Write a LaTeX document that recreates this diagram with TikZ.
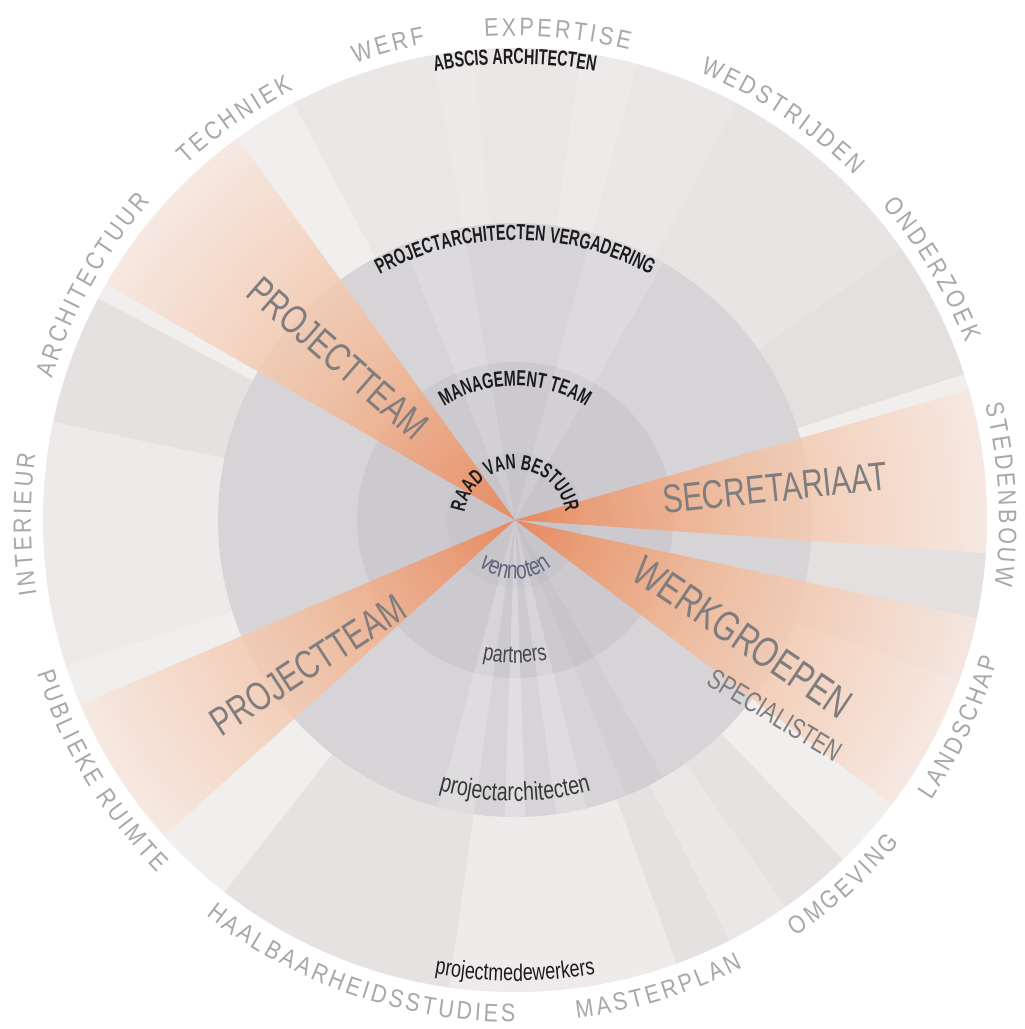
\documentclass[tikz,border=0pt]{standalone}
\usepackage{fontspec}
\setmainfont{Liberation Sans}
\newfontfamily\ringfont[FakeStretch=0.85]{Liberation Sans}
\newfontfamily\headfont[FakeStretch=0.66]{Liberation Sans}
\newfontfamily\namefont[FakeStretch=0.75]{Liberation Sans}
\usetikzlibrary{decorations.text}

\definecolor{discbase}{RGB}{235,231,230}
\definecolor{ringmid}{RGB}{215,212,216}
\definecolor{ringpartner}{RGB}{205,202,207}
\definecolor{ringcore}{RGB}{199,196,202}
\definecolor{ringgray}{RGB}{168,167,170}
\definecolor{biggray}{RGB}{128,125,127}
\definecolor{headblack}{RGB}{28,28,30}
\definecolor{vennotenblue}{RGB}{95,100,125}
\definecolor{fan0}{RGB}{236,128,78}
\definecolor{fan1}{RGB}{239,152,108}
\definecolor{fan2}{RGB}{243,190,158}
\definecolor{fan3}{RGB}{247,232,224}

% orange fans fade from the centre to the rim
\pgfdeclareradialshading{fan}{\pgfpointorigin}{color(0bp)=(fan0); color(4bp)=(fan1); color(12bp)=(fan2); color(25bp)=(fan3); color(50bp)=(fan3)}

\tikzset{
  % rim names: letters set apart by narrow spaces
  rimtext/.style={decorate, decoration={text along path, text align=center, text color=ringgray,
      text={|\ringfont\fontsize{18}{20}\selectfont\fontdimen2\font=2.2pt|#1}}},
  head/.style={decorate, decoration={text along path, text align=center, text color=headblack,
      text={|\headfont\bfseries\fontsize{15.5}{16}\selectfont|#1}}},
  member/.style={decorate, decoration={text along path, text align=center, text color=headblack,
      text={|\namefont\fontsize{17}{18}\selectfont|#1}}},
  bigname/.style={text=biggray, inner sep=0pt, font=\namefont\fontsize{28.5}{29}\selectfont},
  sectorlight/.style={fill=white, fill opacity=#1},
  sectordark/.style={fill=black!55, fill opacity=#1}
}

\begin{document}
\begin{tikzpicture}[x=0.25mm, y=0.25mm]
  \useasboundingbox[fill=white] (-515,-509) rectangle (510,520);

  % outer disc with its sectors
  \fill[discbase] (0,0) circle (472);
  \fill[sectorlight=0.32] (118:297) arc[start angle=118, end angle=152, radius=297] -- (152:472) arc[start angle=152, end angle=118, radius=472] -- cycle;
  \fill[sectordark=0.05] (152:297) arc[start angle=152, end angle=168, radius=297] -- (168:472) arc[start angle=168, end angle=152, radius=472] -- cycle;
  \fill[sectorlight=0.15] (168:297) arc[start angle=168, end angle=198, radius=297] -- (198:472) arc[start angle=198, end angle=168, radius=472] -- cycle;
  \fill[sectorlight=0.32] (198:297) arc[start angle=198, end angle=232, radius=297] -- (232:472) arc[start angle=232, end angle=198, radius=472] -- cycle;
  \fill[sectordark=0.04] (232:297) arc[start angle=232, end angle=262, radius=297] -- (262:472) arc[start angle=262, end angle=232, radius=472] -- cycle;
  \fill[sectorlight=0.2] (262:297) arc[start angle=262, end angle=290, radius=297] -- (290:472) arc[start angle=290, end angle=262, radius=472] -- cycle;
  \fill[sectordark=0.05] (290:297) arc[start angle=290, end angle=297, radius=297] -- (297:472) arc[start angle=297, end angle=290, radius=472] -- cycle;
  \fill[sectordark=0.04] (305:297) arc[start angle=305, end angle=314, radius=297] -- (314:472) arc[start angle=314, end angle=305, radius=472] -- cycle;
  \fill[sectorlight=0.32] (314:297) arc[start angle=314, end angle=340, radius=297] -- (340:472) arc[start angle=340, end angle=314, radius=472] -- cycle;
  \fill[sectordark=0.06] (340:297) arc[start angle=340, end angle=356, radius=297] -- (356:472) arc[start angle=356, end angle=340, radius=472] -- cycle;
  \fill[sectorlight=0.32] (-4:297) arc[start angle=-4, end angle=18, radius=297] -- (18:472) arc[start angle=18, end angle=-4, radius=472] -- cycle;
  \fill[sectordark=0.06] (18:297) arc[start angle=18, end angle=35, radius=297] -- (35:472) arc[start angle=35, end angle=18, radius=472] -- cycle;
  \fill[sectordark=0.02] (35:297) arc[start angle=35, end angle=62, radius=297] -- (62:472) arc[start angle=62, end angle=35, radius=472] -- cycle;
  \fill[sectorlight=0.15] (75:297) arc[start angle=75, end angle=82, radius=297] -- (82:472) arc[start angle=82, end angle=75, radius=472] -- cycle;
  \fill[sectorlight=0.12] (95:297) arc[start angle=95, end angle=100, radius=297] -- (100:472) arc[start angle=100, end angle=95, radius=472] -- cycle;

  % inner rings
  \fill[ringmid] (0,0) circle (297);
  \fill[ringpartner] (0,0) circle (158);
  \fill[ringcore] (0,0) circle (68);

  % thin stripes through the inner rings
  \fill[sectorlight=0.2] (0,0) -- (255:297) arc[start angle=255, end angle=262, radius=297] -- cycle;
  \fill[sectorlight=0.25] (0,0) -- (268:297) arc[start angle=268, end angle=272, radius=297] -- cycle;
  \fill[sectorlight=0.2] (0,0) -- (278:297) arc[start angle=278, end angle=284, radius=297] -- cycle;
  \fill[sectordark=0.05] (0,0) -- (292:297) arc[start angle=292, end angle=300, radius=297] -- cycle;
  \fill[sectorlight=0.15] (0,0) -- (60:297) arc[start angle=60, end angle=75, radius=297] -- cycle;
  \fill[sectorlight=0.15] (0,0) -- (100:297) arc[start angle=100, end angle=112, radius=297] -- cycle;

  % orange fans
  \begin{scope}
    \clip (0,0) -- (126:480) arc[start angle=126, end angle=150, radius=480] -- cycle;
    \shade[shading=fan, opacity=0.85] (0,0) circle (472);
  \end{scope}
  \begin{scope}
    \clip (0,0) -- (203:480) arc[start angle=203, end angle=222, radius=480] -- cycle;
    \shade[shading=fan, opacity=0.85] (0,0) circle (472);
  \end{scope}
  \begin{scope}
    \clip (0,0) -- (-4:480) arc[start angle=-4, end angle=16, radius=480] -- cycle;
    \shade[shading=fan, opacity=0.85] (0,0) circle (472);
  \end{scope}
  \begin{scope}
    \clip (0,0) -- (-37:480) arc[start angle=-37, end angle=-12, radius=480] -- cycle;
    \shade[shading=fan, opacity=0.85] (0,0) circle (472);
  \end{scope}

  % names along the rim
  \path[rimtext=I N T E R I E U R] (220.5:484) arc[start angle=220.5, end angle=140.5, radius=484];
  \path[rimtext=A R C H I T E C T U U R] (191:484) arc[start angle=191, end angle=111, radius=484];
  \path[rimtext=T E C H N I E K] (165:484) arc[start angle=165, end angle=85, radius=484];
  \path[rimtext=W E R F] (145:484) arc[start angle=145, end angle=65, radius=484];
  \path[rimtext=E X P E R T I S E] (125:484) arc[start angle=125, end angle=45, radius=484];
  \path[rimtext=W E D S T R I J D E N] (96.5:484) arc[start angle=96.5, end angle=16.5, radius=484];
  \path[rimtext=O N D E R Z O E K] (71:484) arc[start angle=71, end angle=-9, radius=484];
  \path[rimtext=S T E D E N B O U W] (43:484) arc[start angle=43, end angle=-37, radius=484];
  \path[rimtext=L A N D S C H A P] (-65:502) arc[start angle=-65, end angle=15, radius=502];
  \path[rimtext=O M G E V I N G] (-88:502) arc[start angle=-88, end angle=-8, radius=502];
  \path[rimtext=M A S T E R P L A N] (-113:502) arc[start angle=-113, end angle=-33, radius=502];
  \path[rimtext=H A A L B A A R H E I D S S T U D I E S] (-149:502) arc[start angle=-149, end angle=-69, radius=502];
  \path[rimtext=P U B L I E K E] (-195:502) arc[start angle=-195, end angle=-115, radius=502];
  \path[rimtext=R U I M T E] (-181:502) arc[start angle=-181, end angle=-101, radius=502];

  % bodies of the office
  \path[head=ABSCIS ARCHITECTEN] (120:456) arc[start angle=120, end angle=60, radius=456];
  \path[head=PROJECTARCHITECTEN VERGADERING] (135:280) arc[start angle=135, end angle=45, radius=280];
  \path[head=MANAGEMENT TEAM] (140:134) arc[start angle=140, end angle=40, radius=134];
  \path[decorate, decoration={text along path, text align=center, text color=headblack,
      text={|\headfont\bfseries\fontsize{15}{15}\selectfont|RAAD VAN BESTUUR}}]
    (185:51) arc[start angle=185, end angle=-5, radius=51];

  % members
  \path[member=vennoten, decoration={text color=vennotenblue,
      text={|\namefont\fontsize{18}{18}\selectfont|vennoten}}] (-150:59) arc[start angle=-150, end angle=-30, radius=59];
  \path[member=partners, decoration={text color=black!72}] (-120:143) arc[start angle=-120, end angle=-60, radius=143];
  \path[member=projectarchitecten, decoration={text color=black!78,
      text={|\namefont\fontsize{18.5}{19}\selectfont|projectarchitecten}}] (-115:281) arc[start angle=-115, end angle=-65, radius=281];
  \path[member=projectmedewerkers] (-110:461) arc[start angle=-110, end angle=-70, radius=461];

  % teams on the fans
  \node[bigname, rotate=-41] (teamnw) at (-177,162) {PROJECTTEAM};
  \node[bigname, rotate=33] (teamsw) at (-207,-145) {PROJECTTEAM};
  \node[bigname, rotate=6] (secretariaat) at (260,32) {SECRETARIAAT};
  \node[bigname, font=\namefont\fontsize{30}{30}\selectfont, rotate=-34] (werkgroepen) at (228,-117) {WERKGROEPEN};
  \node[bigname, font=\namefont\fontsize{20}{20}\selectfont, rotate=-31] (specialisten) at (260,-195) {SPECIALISTEN};
\end{tikzpicture}
\end{document}
